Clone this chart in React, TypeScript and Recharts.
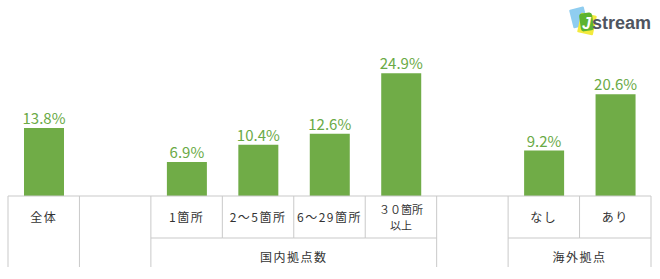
import { BarChart, Bar, XAxis, YAxis, LabelList } from 'recharts';

// columns of the table under the bars; empty strings are spacer columns
const categories = ['全体', '', '1箇所', '2～5箇所', '6～29箇所', '３０箇所\n以上', '', 'なし', 'あり'];
const shares = [13.8, null, 6.9, 10.4, 12.6, 24.9, null, 9.2, 20.6];
const groups = [
  { name: '国内拠点数', from: 2, to: 5 },
  { name: '海外拠点', from: 7, to: 8 },
];

const W = 660;
const H = 279;
const MARGIN = { top: 48, right: 9, bottom: 0, left: 8 };
const AXIS_H = 83;
const BAND = (W - MARGIN.left - MARGIN.right) / categories.length;
const TOP = H - AXIS_H; // top edge of the table
const ROW = 42; // first row height
const BOTTOM = TOP + 71;
const LINE = '#c9c9c9';
const GREEN = '#70ac47';
const FONT = '"Noto Sans CJK JP", "Noto Sans", sans-serif';

const data = categories.map((c, i) => ({ id: String(i), label: c, value: shares[i] }));

function TableTick(props: any) {
  const { x, payload } = props;
  const i = Number(payload.value);
  const left = x - BAND / 2;
  const right = x + BAND / 2;
  const g = groups.find((gr) => i >= gr.from && i <= gr.to);
  const inner = g && i > g.from;
  const lines = categories[i] ? categories[i].split('\n') : [];
  const multi = lines.length > 1;
  const firstY = multi ? TOP + 18 : TOP + 26;
  const textStyle = { fontFamily: FONT, fontSize: 12, letterSpacing: 1.5, fill: '#333' };
  const cellStyle = multi ? { ...textStyle, fontSize: 11, letterSpacing: 0 } : textStyle;

  return (
    <g>
      <line x1={left} x2={left} y1={TOP} y2={inner ? TOP + ROW : BOTTOM} stroke={LINE} />
      {i === categories.length - 1 && (
        <line x1={right} x2={right} y1={TOP} y2={BOTTOM} stroke={LINE} />
      )}
      {g && <line x1={left} x2={right} y1={TOP + ROW} y2={TOP + ROW} stroke={LINE} />}
      {g && i === g.from && (
        <text x={left + ((g.to - g.from + 1) * BAND) / 2} y={TOP + ROW + 24} textAnchor="middle" style={textStyle}>
          {g.name}
        </text>
      )}
      {lines.map((l, k) => (
        <text key={k} x={x} y={firstY + k * 16} textAnchor="middle" style={cellStyle}>
          {l}
        </text>
      ))}
    </g>
  );
}

function Logo() {
  return (
    <svg width={100} height={40} style={{ position: 'absolute', left: 560, top: 0 }}>
      <rect x={11} y={8} width={15} height={19} rx={1} fill="#8fcdf0" transform="rotate(-14 18 17)" />
      <rect x={19} y={14} width={16} height={20} rx={1} fill="#f3ea3c" transform="rotate(12 27 24)" />
      <rect x={20} y={13} width={13} height={18} rx={3} fill="#5db330" transform="rotate(-8 26 22)" />
      <text x={22} y={29} style={{ fontFamily: 'Liberation Sans', fontWeight: 700, fontStyle: 'italic', fontSize: 16, fill: '#fff' }}>
        J
      </text>
      <text x={32} y={29} style={{ fontFamily: 'Liberation Sans', fontWeight: 700, fontSize: 18, fill: '#4f5560' }}>
        stream
      </text>
    </svg>
  );
}

export default function App() {
  return (
    <div style={{ position: 'absolute', left: 0, top: 0, width: W, height: H, background: '#fff' }}>
      <BarChart width={W} height={H} data={data} margin={MARGIN} barCategoryGap={0}>
        <XAxis
          dataKey="id"
          height={AXIS_H}
          interval={0}
          tickLine={false}
          axisLine={{ stroke: LINE }}
          tick={<TableTick />}
        />
        <YAxis hide domain={[0, 30]} />
        <Bar dataKey="value" fill={GREEN} barSize={40} isAnimationActive={false}>
          <LabelList
            dataKey="value"
            position="top"
            offset={4}
            formatter={(v: any) => (v == null ? '' : `${Number(v).toFixed(1)}%`)}
            style={{ fontFamily: FONT, fontSize: 15, fill: '#6aaa46' }}
          />
        </Bar>
      </BarChart>
      <Logo />
    </div>
  );
}
